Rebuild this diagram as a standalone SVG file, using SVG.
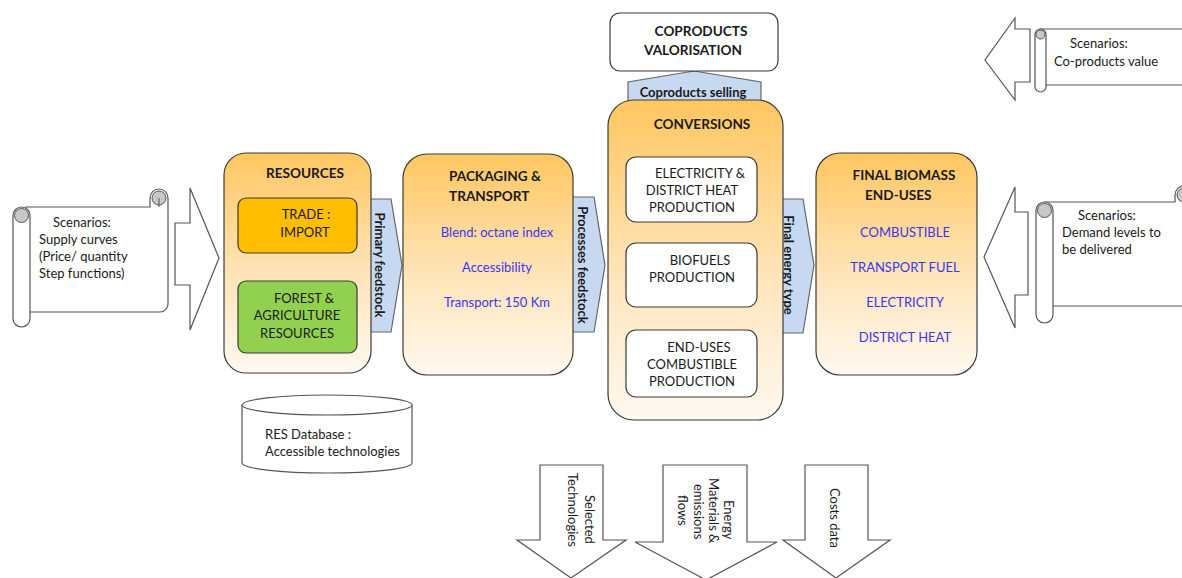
<svg xmlns="http://www.w3.org/2000/svg" width="1182" height="578" viewBox="0 0 1182 578">
<defs>
<linearGradient id="og" x1="0" y1="0" x2="0" y2="1">
<stop offset="0" stop-color="#FFC660"/>
<stop offset="0.5" stop-color="#FFE2B2"/>
<stop offset="1" stop-color="#FFF9F1"/>
</linearGradient>
<style>
text{font-family:Lato,"Liberation Sans",sans-serif;font-size:13px;fill:#1a1a1a}
.b{font-weight:bold}
.t{font-size:13.6px}
.c{text-anchor:middle}
.blue{fill:#3B35F0}
.node{fill:url(#og);stroke:#3a3a3a;stroke-width:1.2}
.inner{fill:#fff;stroke:#3a3a3a;stroke-width:1.2}
.blk{fill:#fff;stroke:#555;stroke-width:1.2}
.flow{fill:#C6D9F1;stroke:#666;stroke-width:1.2}
.roll{fill:#fff;stroke:#555;stroke-width:1.2}
.curl{fill:#C8C8C8;stroke:#555;stroke-width:1}
</style>
</defs>
<rect width="1182" height="578" fill="#fff"/>

<g id="connectors">
<polygon class="blk" points="175,223 190,223 190,188 219,258 190,330 190,285 175,285"/>
<polygon class="blk" points="1028,212 1015,212 1015,187 984,257 1015,328 1015,295 1028,295"/>
<polygon class="blk" points="1030,29 1015,29 1015,18 985,60 1015,100 1015,82 1030,82"/>
<polygon class="flow" points="360,199 391,199 402,265 391,332 360,332"/>
<polygon class="flow" points="563,197 594,197 605,265 594,332 563,332"/>
<polygon class="flow" points="770,199 803,199 814,265 803,333 770,333"/>
<polygon class="flow" points="628,110 628,82 694,71 761,82 761,110"/>
<text class="b c" x="693" y="97">Coproducts selling</text>
<text class="b c" transform="translate(374.5,265) rotate(90)">Primary feedstock</text>
<text class="b c" transform="translate(577.5,265) rotate(90)">Processes feedstock</text>
<text class="b c" transform="translate(783.5,265) rotate(90)">Final energy type</text>
<g id="out-selected">
<polygon class="blk" points="540,465 603,465 603,540 626,540 571,578 517,540 540,540"/>
<text transform="translate(584.5,495) rotate(90)">Selected</text>
<text transform="translate(567.5,473) rotate(90)">Technologies</text>
</g>
<g id="out-flows">
<polygon class="blk" points="663,465 747,465 747,542 777,542 706,580 635,542 663,542"/>
<text transform="translate(724,500) rotate(90)">Energy</text>
<text transform="translate(709,478) rotate(90)">Materials &amp;</text>
<text transform="translate(694,484) rotate(90)">emissions</text>
<text transform="translate(678,495) rotate(90)">flows</text>
</g>
<g id="out-costs">
<polygon class="blk" points="805,465 868,465 868,540 890,540 836,578 783,540 805,540"/>
<text transform="translate(830,488) rotate(90)">Costs data</text>
</g>
</g>

<g id="scenario-supply">
<path class="roll" d="M26 207 H150 V198 A9 9 0 0 1 168 198 V304 A8 8 0 0 1 160 312 H26 Z"/>
<circle class="curl" cx="159" cy="198" r="7"/>
<path d="M159 198 V207" stroke="#555" fill="none"/>
<rect class="roll" x="13" y="207" width="17" height="120" rx="8.5"/>
<circle class="curl" cx="21.5" cy="215.5" r="7"/>
<text x="53" y="227">Scenarios:</text>
<text x="39" y="244">Supply curves</text>
<text x="39" y="261">(Price/ quantity</text>
<text x="39" y="278">Step functions)</text>
</g>

<g id="scenario-demand">
<path class="roll" d="M1045 202 H1175 V195 A9 9 0 0 1 1193 195 V306 H1045 Z"/>
<circle class="curl" cx="1184" cy="195" r="7"/>
<rect class="roll" x="1036" y="202" width="17" height="121" rx="8.5"/>
<circle class="curl" cx="1044.5" cy="210.5" r="7"/>
<text x="1078" y="220">Scenarios:</text>
<text x="1062" y="237">Demand levels to</text>
<text x="1062" y="254">be delivered</text>
</g>

<g id="scenario-coproducts">
<path class="roll" d="M1040 29 H1190 V85 H1040 Z"/>
<rect class="roll" x="1035" y="29" width="11" height="63" rx="5.5"/>
<circle class="curl" cx="1040.5" cy="34.5" r="4.5"/>
<text x="1070" y="48">Scenarios:</text>
<text x="1054" y="66">Co-products value</text>
</g>

<g id="resources">
<rect class="node" x="224" y="153" width="147" height="220" rx="22"/>
<text class="b c t" x="305" y="178">RESOURCES</text>
<rect x="238" y="198" width="119" height="55" rx="8" fill="#FFBE00" stroke="#3a3a3a" stroke-width="1.2"/>
<text class="c" x="306" y="219">TRADE :</text>
<text class="c" x="305" y="237">IMPORT</text>
<rect x="238" y="281" width="119" height="72" rx="8" fill="#92D050" stroke="#3a3a3a" stroke-width="1.2"/>
<text class="c" x="304" y="303">FOREST &amp;</text>
<text class="c" x="297" y="320">AGRICULTURE</text>
<text class="c" x="297" y="338">RESOURCES</text>
</g>

<g id="packaging">
<rect class="node" x="403" y="154" width="170" height="221" rx="24"/>
<text class="b t" x="449" y="181">PACKAGING &amp;</text>
<text class="b t" x="449" y="201">TRANSPORT</text>
<text class="c blue" x="497" y="237">Blend: octane index</text>
<text class="c blue" x="497" y="272">Accessibility</text>
<text class="c blue" x="497" y="307">Transport: 150 Km</text>
</g>

<g id="coproducts">
<rect class="inner" x="610" y="13" width="168" height="58" rx="10"/>
<text class="b c t" x="701" y="36">COPRODUCTS</text>
<text class="b c t" x="693" y="55">VALORISATION</text>
</g>

<g id="conversions">
<rect class="node" x="608" y="100" width="175" height="320" rx="26"/>
<text class="b c t" x="702" y="129">CONVERSIONS</text>
<rect class="inner" x="626" y="157" width="131" height="65" rx="10"/>
<text class="c" x="700" y="178">ELECTRICITY &amp;</text>
<text class="c" x="692" y="195">DISTRICT HEAT</text>
<text class="c" x="692" y="212">PRODUCTION</text>
<rect class="inner" x="626" y="243" width="131" height="64" rx="10"/>
<text class="c" x="700" y="265">BIOFUELS</text>
<text class="c" x="692" y="282">PRODUCTION</text>
<rect class="inner" x="626" y="330" width="131" height="67" rx="10"/>
<text class="c" x="699" y="352">END-USES</text>
<text class="c" x="692" y="369">COMBUSTIBLE</text>
<text class="c" x="692" y="386">PRODUCTION</text>
</g>

<g id="final-enduses">
<rect class="node" x="816" y="153" width="161" height="222" rx="24"/>
<text class="b c t" x="904" y="180">FINAL BIOMASS</text>
<text class="b t" x="865" y="200">END-USES</text>
<text class="c blue" x="905" y="237">COMBUSTIBLE</text>
<text class="c blue" x="905" y="272">TRANSPORT FUEL</text>
<text class="c blue" x="905" y="307">ELECTRICITY</text>
<text class="c blue" x="905" y="342">DISTRICT HEAT</text>
</g>

<g id="res-database">
<path class="blk" d="M242 405 V463 A85 10 0 0 0 412 463 V405"/>
<ellipse class="blk" cx="327" cy="405" rx="85" ry="10"/>
<text x="265" y="439">RES Database :</text>
<text x="265" y="456">Accessible technologies</text>
</g>
</svg>
